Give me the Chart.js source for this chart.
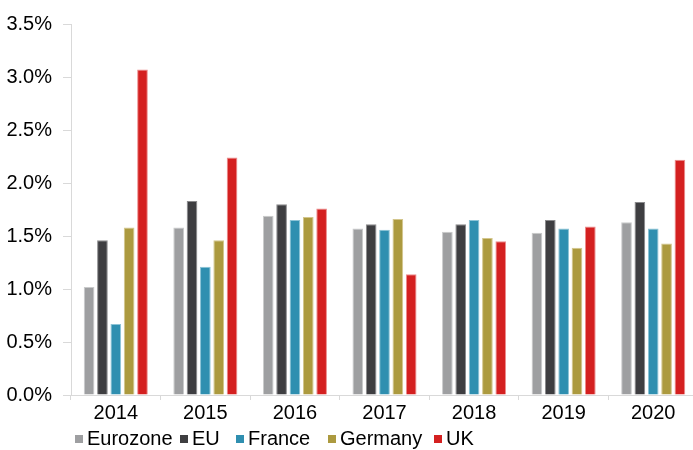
<!DOCTYPE html>
<html>
<head>
<meta charset="utf-8">
<script src="https://cdn.jsdelivr.net/npm/chart.js@4/dist/chart.umd.min.js"></script>
<style>
  html, body { margin: 0; padding: 0; background: #fff; overflow: hidden; }
  #wrap { position: relative; width: 698px; height: 450px; }
  #legend {
    position: absolute; left: 0; top: 426px; width: 698px; height: 24px;
    font-family: 'Liberation Sans', Arial, sans-serif;
    font-size: 20px; color: #000; line-height: 24px;
  }
  #legend span.item { position: absolute; top: 0; display: flex; align-items: center; white-space: nowrap; }
  #legend span.box { width: 8px; height: 8px; margin-right: 4px; margin-top: 2px; }
</style>
</head>
<body>
<div id="wrap">
  <canvas id="chart" width="698" height="450"></canvas>
  <div id="legend"></div>
</div>
<script>
const years = ['2014', '2015', '2016', '2017', '2018', '2019', '2020'];
const seriesNames = ['Eurozone', 'EU', 'France', 'Germany', 'UK'];
const eurozone = [1.02, 1.58, 1.69, 1.57, 1.54, 1.53, 1.63];
const eu       = [1.46, 1.83, 1.80, 1.61, 1.61, 1.65, 1.82];
const france   = [0.67, 1.21, 1.65, 1.56, 1.65, 1.57, 1.57];
const germany  = [1.58, 1.46, 1.68, 1.66, 1.48, 1.39, 1.43];
const uk       = [3.07, 2.24, 1.76, 1.14, 1.45, 1.59, 2.22];
const yTicks   = [0, 0.5, 1, 1.5, 2, 2.5, 3, 3.5];

const fills   = ['#9e9fa1', '#3e3e41', '#2f8fb0', '#ac9a3f', '#d42020'];
const borders = ['#c9cacb', '#8a8a8c', '#8cc3d6', '#d3c68c', '#ec8c8c'];
const values  = [eurozone, eu, france, germany, uk];
// left edge of each legend entry
const legendX = [75, 180, 236, 328, 434];

const font = "'Liberation Sans', Arial, sans-serif";
const axisGrey = '#d9d9d9';

const ctx = document.getElementById('chart');

const chart = new Chart(ctx, {
    type: 'bar',
    data: {
        labels: years,
        datasets: seriesNames.map((name, i) => ({
            label: name,
            data: values[i],
            backgroundColor: fills[i],
            borderColor: borders[i],
            borderWidth: 1,
            categoryPercentage: 0.745,
            barPercentage: 0.8
        }))
    },
    options: {
        responsive: false,
        animation: false,
        layout: { padding: { top: 24, bottom: 25, left: 0, right: 0 } },
        plugins: {
            legend: { display: false },
            tooltip: { enabled: false }
        },
        scales: {
            x: {
                grid: { drawOnChartArea: false, color: axisGrey, tickLength: 5, offset: true },
                border: { color: axisGrey, width: 1 },
                ticks: { color: '#000', font: { family: font, size: 20 }, padding: 1, maxRotation: 0 },
                afterFit: (scale) => { scale.height = 30; }
            },
            y: {
                min: 0,
                max: 3.5,
                afterBuildTicks: (scale) => { scale.ticks = yTicks.map(v => ({ value: v })); },
                grid: { drawOnChartArea: false, color: axisGrey, tickLength: 8 },
                border: { color: axisGrey, width: 1 },
                ticks: {
                    color: '#000',
                    font: { family: font, size: 20 },
                    padding: 11,
                    callback: (v) => v.toFixed(1) + '%'
                },
                afterFit: (scale) => { scale.width = 71; }
            }
        }
    }
});

// legend row under the axis
const legend = document.getElementById('legend');
seriesNames.forEach((name, i) => {
    const item = document.createElement('span');
    item.className = 'item';
    item.style.left = legendX[i] + 'px';
    const box = document.createElement('span');
    box.className = 'box';
    box.style.background = fills[i];
    item.appendChild(box);
    item.appendChild(document.createTextNode(name));
    legend.appendChild(item);
});
</script>
</body>
</html>
